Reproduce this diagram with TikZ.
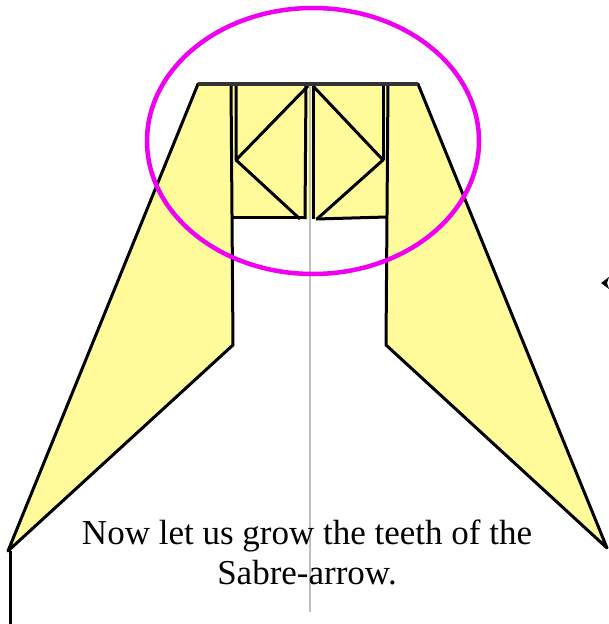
\documentclass[tikz,border=0pt]{standalone}
\usepackage{fontspec}
\setmainfont{Liberation Serif}
\definecolor{sabre}{RGB}{255,251,155}
\definecolor{hoop}{RGB}{240,0,240}
\begin{document}
\begin{tikzpicture}[x=1pt,y=-1pt,
  blade/.style={draw=black, line width=3pt, fill=sabre, line join=round},
  tooth/.style={draw=black, line width=3pt, line join=round},
  bar/.style={draw=black!80, line width=4.5pt},
  axis/.style={draw=black!25, line width=1.8pt},
  hoop/.style={draw=hoop, line width=4.5pt},
  caption/.style={align=center, font=\fontsize{35}{40}\selectfont}
]
\useasboundingbox (0,0) rectangle (609,624);
% blades
\coordinate (lt) at (198,84);
\coordinate (rt) at (418,84);
\fill[sabre] (231,84) rectangle (388,218);
\path[blade] (lt) -- (8,551) -- (233,345) -- (231,84) -- cycle;
\path[blade] (rt) -- (607,548) -- (386,345) -- (388,84) -- cycle;
\draw[tooth] (10,551) -- (10,624);
% teeth
\draw[tooth] (231,217) -- (306,217);
\draw[tooth] (316,219) -- (387,217);
\draw[tooth] (236,84) -- (236,160) -- (308,86);
\draw[tooth] (236,160) -- (300,219);
\draw[tooth] (306,84) -- (305,219);
\draw[tooth] (313,84) -- (313,219);
\draw[tooth] (313,86) -- (383,160) -- (317,219);
\draw[tooth] (383,84) -- (383,160);
% centre line and top bar
\draw[axis] (310,84) -- (310,612);
\draw[bar] (lt) -- (rt);
\draw[hoop] (313,141) ellipse [x radius=166, y radius=133];
% marker
\fill[black] (601,283) -- (609,277) -- (607,283) -- (609,289) -- cycle;
\node[caption] (note) at (307,552) {Now let us grow the teeth of the\\Sabre-arrow.};
\end{tikzpicture}
\end{document}
